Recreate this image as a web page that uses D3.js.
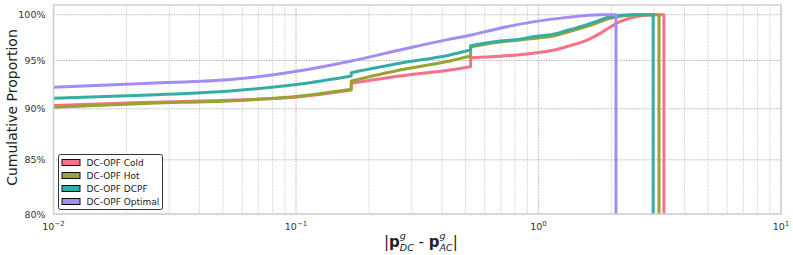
<!DOCTYPE html>
<html>
<head>
<meta charset="utf-8">
<script src="https://cdn.jsdelivr.net/npm/d3@7"></script>
<style>
  body { margin: 0; background: white; }
  svg { font-family: "DejaVu Sans", sans-serif; }
</style>
</head>
<body>
<svg width="793" height="255"></svg>
<script>
// series names + colours (seaborn husl, 4 colours)
const names = ["DC-OPF Cold", "DC-OPF Hot", "DC-OPF DCPF", "DC-OPF Optimal"];
const colors = ["#f77189", "#97a431", "#36ada4", "#a48cf4"];

// |p_DC - p_AC| values (x) and cumulative proportion in % (y)
// a repeated x value marks a vertical step
const xCold = [0.01, 0.025, 0.055, 0.104, 0.169, 0.169, 0.268, 0.431, 0.525, 0.525, 0.694, 0.839, 0.949, 1.148, 1.31, 1.585, 1.79, 1.97, 2.17, 2.55, 2.96, 3.29];
const yCold = [90.33, 90.66, 90.89, 91.23, 91.91, 92.61, 93.37, 94.00, 94.34, 95.30, 95.45, 95.62, 95.78, 96.1, 96.5, 97.2, 97.9, 98.6, 99.22, 99.8, 100, 100];
const xHot = [0.01, 0.025, 0.055, 0.104, 0.169, 0.169, 0.268, 0.431, 0.525, 0.525, 0.694, 0.839, 0.949, 1.148, 1.31, 1.585, 1.79, 1.97, 2.55, 3.14];
const yHot = [90.15, 90.56, 90.82, 91.30, 91.99, 92.85, 94.00, 94.95, 95.48, 96.48, 97.0, 97.2, 97.38, 97.64, 98.05, 98.7, 99.2, 99.6, 100, 100];
const xDcpf = [0.01, 0.025, 0.055, 0.104, 0.169, 0.169, 0.268, 0.431, 0.525, 0.525, 0.694, 0.839, 0.949, 1.148, 1.31, 1.585, 1.79, 1.97, 2.4, 2.97];
const yDcpf = [91.06, 91.40, 91.84, 92.53, 93.37, 93.71, 94.70, 95.59, 96.12, 96.59, 97.1, 97.3, 97.55, 97.83, 98.25, 98.9, 99.4, 99.75, 100, 100];
const xOpt = [0.01, 0.025, 0.055, 0.104, 0.169, 0.268, 0.431, 0.507, 0.694, 0.949, 1.31, 1.79, 2.087];
const yOpt = [92.19, 92.61, 93.02, 93.92, 94.95, 96.12, 97.3, 97.65, 98.5, 99.2, 99.7, 100, 100];

const yTicks = [80, 85, 90, 95, 100];
const xMajor = [0.01, 0.1, 1, 10];
const xTickLabels = ["\u22122", "\u22121", "0", "1"];

const series = [[xCold, yCold], [xHot, yHot], [xDcpf, yDcpf], [xOpt, yOpt]];

const svg = d3.select("svg");
const pLeft = 53.5, pRight = 781, pTop = 5, pBottom = 214;

const x = d3.scaleLog().domain([0.01, 10]).range([pLeft, pRight]);
const y = d3.scaleLog().domain([80, 101.09]).range([pBottom, pTop]);

// minor ticks 2..9 in every decade
const xMinor = [];
xMajor.slice(0, -1).forEach(d => { for (let k = 2; k <= 9; k++) xMinor.push(d * k); });

// grid
const grid = svg.append("g");
grid.selectAll("line.minor").data(xMinor).join("line").attr("class", "minor")
  .attr("x1", d => x(d)).attr("x2", d => x(d)).attr("y1", pTop).attr("y2", pBottom)
  .attr("stroke", "#bdbdbd").attr("stroke-width", 0.8).attr("stroke-dasharray", "1.2,1.2");
grid.selectAll("line.vmajor").data(xMajor).join("line").attr("class", "vmajor")
  .attr("x1", d => x(d)).attr("x2", d => x(d)).attr("y1", pTop).attr("y2", pBottom)
  .attr("stroke", "#c8c8c8").attr("stroke-width", 1.2).attr("stroke-dasharray", "2,1");
grid.selectAll("line.hmajor").data(yTicks).join("line").attr("class", "hmajor")
  .attr("x1", pLeft).attr("x2", pRight).attr("y1", d => y(d)).attr("y2", d => y(d))
  .attr("stroke", "#bdbdbd").attr("stroke-width", 1).attr("stroke-dasharray", "1.5,1");

// clip
svg.append("clipPath").attr("id", "clip").append("rect")
  .attr("x", pLeft).attr("y", pTop).attr("width", pRight - pLeft).attr("height", pBottom - pTop);

// smooth pieces between the steps, joined by straight vertical jumps,
// then a final drop below the axis
const smooth = d3.line().x(d => x(d[0])).y(d => y(d[1])).curve(d3.curveMonotoneX);
function cdfPath(s) {
  const pieces = [[]];
  s[0].forEach((v, i) => {
    if (i > 0 && v === s[0][i - 1]) pieces.push([]);
    pieces[pieces.length - 1].push([v, s[1][i]]);
  });
  let d = "";
  pieces.forEach((p, k) => {
    const part = p.length > 1 ? smooth(p) : `M${x(p[0][0])},${y(p[0][1])}`;
    d += k === 0 ? part : "L" + part.slice(1);
  });
  const last = s[0][s[0].length - 1];
  return d + `L${x(last)},${pBottom + 10}`;
}
svg.append("g").attr("clip-path", "url(#clip)")
  .selectAll("path").data(series).join("path")
  .attr("d", cdfPath)
  .attr("fill", "none")
  .attr("stroke", (d, i) => colors[i])
  .attr("stroke-width", 3)
  .attr("stroke-linejoin", "round");

// frame
svg.append("rect").attr("x", pLeft).attr("y", pTop).attr("width", pRight - pLeft).attr("height", pBottom - pTop)
  .attr("fill", "none").attr("stroke", "#d0d0d0").attr("stroke-width", 1.5);

// y tick labels
svg.selectAll("text.ytick").data(yTicks).join("text").attr("class", "ytick")
  .attr("x", pLeft - 8).attr("y", d => y(d) + 3.5)
  .attr("text-anchor", "end").attr("font-size", 9.5).attr("fill", "#333")
  .text(d => d + "%");

// x tick labels 10^k
const xt = svg.selectAll("text.xtick").data(xMajor).join("text").attr("class", "xtick")
  .attr("x", d => x(d)).attr("y", 230)
  .attr("text-anchor", "middle").attr("font-size", 9.5).attr("fill", "#333");
xt.append("tspan").text("10");
xt.append("tspan").attr("dy", -4).attr("font-size", 7).text((d, i) => xTickLabels[i]);

// axis titles
svg.append("text")
  .attr("transform", `translate(17,${(pTop + pBottom) / 2 - 2}) rotate(-90)`)
  .attr("text-anchor", "middle").attr("font-size", 14).attr("fill", "#222")
  .text("Cumulative Proportion");

const xl = svg.append("text").attr("x", 384).attr("y", 247).attr("font-size", 15).attr("fill", "#222");
xl.append("tspan").text("|");
xl.append("tspan").attr("font-weight", "bold").text("p");
xl.append("tspan").attr("font-style", "italic").attr("font-size", 9.5).attr("dy", -8).text("g");
xl.append("tspan").attr("font-style", "italic").attr("font-size", 9.5).attr("dx", -6).attr("dy", 12).text("DC");
xl.append("tspan").attr("dy", -4).text(" - ");
xl.append("tspan").attr("font-weight", "bold").text("p");
xl.append("tspan").attr("font-style", "italic").attr("font-size", 9.5).attr("dy", -8).text("g");
xl.append("tspan").attr("font-style", "italic").attr("font-size", 9.5).attr("dx", -6).attr("dy", 12).text("AC");
xl.append("tspan").attr("dy", -4).text("|");

// legend
const lg = svg.append("g").attr("transform", "translate(58.5,154.5)");
lg.append("rect").attr("width", 104).attr("height", 55).attr("rx", 2)
  .attr("fill", "white").attr("stroke", "#333").attr("stroke-width", 1);
const items = lg.selectAll("g.item").data(names).join("g").attr("class", "item")
  .attr("transform", (d, i) => `translate(0,${8 + i * 13})`);
items.append("rect").attr("x", 3.5).attr("y", -3).attr("width", 18).attr("height", 6)
  .attr("fill", (d, i) => colors[i]).attr("stroke", "#111").attr("stroke-width", 1);
items.append("text").attr("x", 28).attr("y", 3.5).attr("font-size", 9).attr("fill", "#222").text(d => d);
</script>
</body>
</html>
